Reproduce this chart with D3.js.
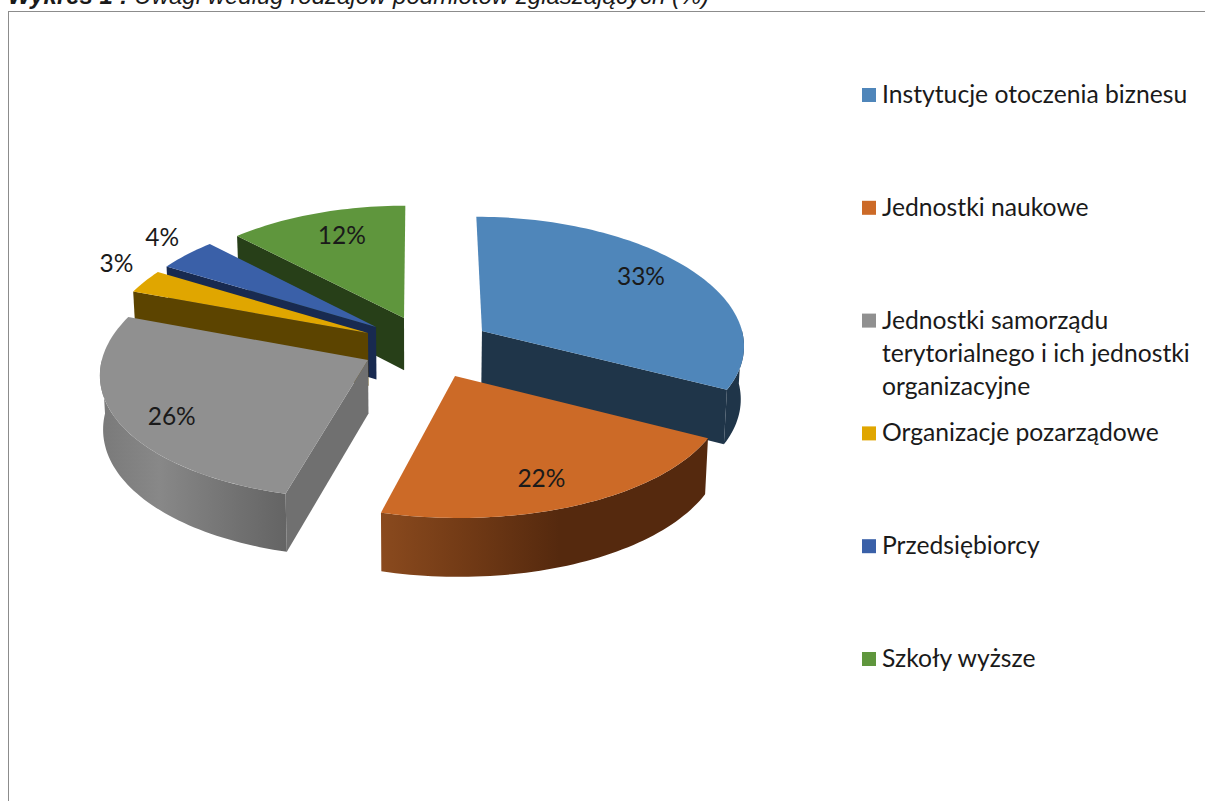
<!DOCTYPE html>
<html>
<head>
<meta charset="utf-8">
<script src="https://cdn.jsdelivr.net/npm/d3@7"></script>
<style>
  html, body { margin: 0; padding: 0; background: #fff; overflow: hidden; }
  text { font-family: Lato, sans-serif; fill: #1a1a1a; }
</style>
</head>
<body>
<script>
var categories = [
  ['Instytucje otoczenia biznesu'],
  ['Jednostki naukowe'],
  ['Jednostki samorządu', 'terytorialnego i ich jednostki', 'organizacyjne'],
  ['Organizacje pozarządowe'],
  ['Przedsiębiorcy'],
  ['Szkoły wyższe']
];
// the labels show them rounded
var values = [32.6, 21.6, 26.4, 3.0, 4.1, 12.3];

// colours per slice: top, dark side
var topColors = ['#4f86ba', '#cc6a27', '#909090', '#e0a600', '#3a60a8', '#5f963d'];
var sideColors = ['#1f3549', '#55290e', '#707070', '#5c4400', '#182a50', '#273f18'];
// how far each slice is pulled out, and how many degrees the pull is turned from its middle
var explode = [0.267, 0.276, 0.225, 0.218, 0.22, 0.226];
var explodeTurn = [6.4, -5.2, -4.2, 0.5, 2.8, 7.2];
// label position: radius along the slice middle, then a small nudge
var labelRadius = [0.72, 0.85, 0.85, 1.1, 1.1, 0.75];
var labelNudge = [[7, -9], [-17, -5], [15, 5], [-7, -13], [-7, -10], [5, -2]];
var drawOrder = [5, 4, 3, 2, 0, 1];

var fullWidth = 1205;
var fullHeight = 801;

var svg = d3.select('body').append('svg')
  .attr('width', fullWidth)
  .attr('height', fullHeight);

var defs = svg.append('defs');

function addGradient(id, x1, x2, stops) {
  var g = defs.append('linearGradient')
    .attr('id', id)
    .attr('gradientUnits', 'userSpaceOnUse')
    .attr('x1', x1).attr('x2', x2)
    .attr('y1', 0).attr('y2', 0);
  stops.forEach(function(s) {
    g.append('stop').attr('offset', s[0]).attr('stop-color', s[1]);
  });
}
addGradient('arc-1', 381, 705, [[0, '#8a4a1e'], [0.25, '#733b16'], [0.55, '#55290e'], [1, '#55290e']]);
addGradient('arc-2', 103, 290, [[0, '#7a7a7a'], [0.3, '#888888'], [0.7, '#727272'], [1, '#636363']]);

// frame, cut by the window at right and bottom
svg.append('rect')
  .attr('x', 8.5).attr('y', 11.5)
  .attr('width', fullWidth + 20).attr('height', fullHeight + 20)
  .attr('fill', 'none')
  .attr('stroke', '#8c8c8c');

var title = svg.append('text')
  .attr('x', 8).attr('y', 4)
  .style('font-family', '"Liberation Sans", sans-serif')
  .style('font-size', '24px')
  .style('font-style', 'italic');
title.append('tspan').style('font-weight', 'bold').text('Wykres 1 :');
title.append('tspan').text(' Uwagi według rodzajów podmiotów zgłaszających (%)');

// pie angles, clockwise from the top
var pie = d3.pie().sort(null).value(function(d) { return d; });
var arcs = pie(values);

// projection of the pie plane on the screen
var cx = 419, cy = 345;
var rx = 263, ry = 125.5;
var perspX = 0.1;
var perspY = 0.08;
var depth = 53;

function project(x, y, low) {
  var w = 1 - perspY * y;
  var sx = rx * x / (1 - perspX * y);
  var sy = ry * y / w;
  if (low) {
    return [cx + sx * 0.99, cy + sy + depth / w];
  }
  return [cx + sx, cy + sy];
}

function pointOf(i, angle, r, low) {
  var mid = (arcs[i].startAngle + arcs[i].endAngle) / 2 + explodeTurn[i] * Math.PI / 180;
  var x = explode[i] * Math.sin(mid) + r * Math.sin(angle);
  var y = -explode[i] * Math.cos(mid) - r * Math.cos(angle);
  return project(x, y, low);
}

var line = d3.line();

function angleSteps(a0, a1) {
  var n = Math.max(2, Math.ceil((a1 - a0) * 40));
  return d3.range(n + 1).map(function(k) { return a0 + (a1 - a0) * k / n; });
}

function topPath(i) {
  var d = arcs[i];
  var pts = [pointOf(i, 0, 0)].concat(angleSteps(d.startAngle, d.endAngle).map(function(a) {
    return pointOf(i, a, 1);
  }));
  return line(pts) + 'Z';
}

// vertical wall from the centre of the slice out to the edge at an angle
function cutPath(i, a) {
  return line([pointOf(i, 0, 0), pointOf(i, a, 1), pointOf(i, a, 1, true), pointOf(i, 0, 0, true)]) + 'Z';
}

// outer wall, only the part that faces the viewer
function wallPath(i) {
  var a0 = Math.max(arcs[i].startAngle, Math.PI / 2);
  var a1 = Math.min(arcs[i].endAngle, 3 * Math.PI / 2);
  if (a1 <= a0) return null;
  var steps = angleSteps(a0, a1);
  var up = steps.map(function(a) { return pointOf(i, a, 1); });
  var down = steps.slice().reverse().map(function(a) { return pointOf(i, a, 1, true); });
  return line(up.concat(down)) + 'Z';
}

var slices = svg.append('g')
  .selectAll('g')
  .data(drawOrder)
  .join('g')
    .attr('class', 'slice');

slices.each(function(i) {
  var g = d3.select(this);
  var d = arcs[i];
  // a cut is seen when its outward side points to the viewer
  if (Math.cos(d.startAngle - Math.PI / 2) < 0) {
    g.append('path').attr('d', cutPath(i, d.startAngle)).attr('fill', sideColors[i]);
  }
  if (Math.cos(d.endAngle + Math.PI / 2) < 0) {
    g.append('path').attr('d', cutPath(i, d.endAngle)).attr('fill', sideColors[i]);
  }
  var wall = wallPath(i);
  if (wall) {
    var fill = (i === 1 || i === 2) ? 'url(#arc-' + i + ')' : sideColors[i];
    g.append('path').attr('d', wall).attr('fill', fill);
  }
  g.append('path').attr('d', topPath(i)).attr('fill', topColors[i]);
});

// value labels
svg.append('g')
  .selectAll('text')
  .data(values)
  .join('text')
    .attr('text-anchor', 'middle')
    .attr('font-size', 24.5)
    .attr('transform', function(v, i) {
      var mid = (arcs[i].startAngle + arcs[i].endAngle) / 2;
      var p = pointOf(i, mid, labelRadius[i]);
      return 'translate(' + (p[0] + labelNudge[i][0]) + ',' + (p[1] + labelNudge[i][1] + 8) + ')';
    })
    .text(function(v) { return Math.round(v) + '%'; });

// legend
var legendY = d3.scalePoint()
  .domain(d3.range(categories.length))
  .range([95, 659]);

var legend = svg.append('g')
  .selectAll('g')
  .data(categories)
  .join('g')
    .attr('transform', function(d, i) { return 'translate(862,' + legendY(i) + ')'; });

legend.append('rect')
  .attr('x', 0).attr('y', -7)
  .attr('width', 14).attr('height', 14)
  .attr('fill', function(d, i) { return topColors[i]; });

legend.append('text')
  .attr('font-size', 24.7)
  .selectAll('tspan')
  .data(function(d) { return d; })
  .join('tspan')
    .attr('x', 20)
    .attr('y', function(d, k) { return 8 + k * 33; })
    .text(function(d) { return d; });
</script>
</body>
</html>
